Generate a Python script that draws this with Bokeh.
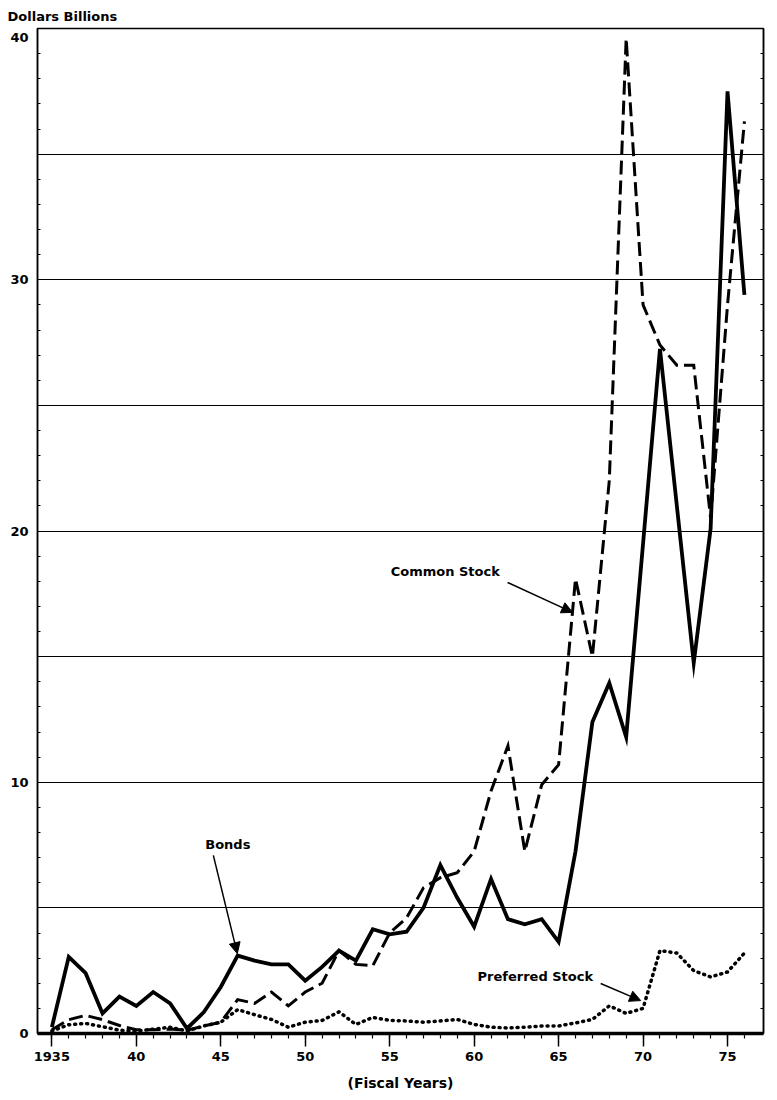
from bokeh.plotting import figure
from bokeh.models import Range1d, FixedTicker, LinearAxis, Label, Arrow, NormalHead, Title
from bokeh.embed import file_html
from bokeh.resources import INLINE

years = list(range(1935, 1977))
bonds = [0.25, 3.05, 2.4, 0.8, 1.47, 1.1, 1.65, 1.2, 0.2, 0.85,
         1.85, 3.1, 2.9, 2.75, 2.75, 2.1, 2.65, 3.3, 2.9, 4.15,
         3.95, 4.05, 5.0, 6.7, 5.4, 4.25, 6.15, 4.55, 4.35, 4.55,
         3.65, 7.25, 12.4, 13.95, 11.8, 19.5, 27.25, 21.0, 14.75, 20.1,
         37.5, 29.4]
common = [0.15, 0.55, 0.72, 0.55, 0.32, 0.15, 0.15, 0.18, 0.13, 0.3,
          0.45, 1.35, 1.2, 1.65, 1.1, 1.65, 2.0, 3.3, 2.75, 2.7,
          4.0, 4.6, 5.8, 6.2, 6.4, 7.25, 9.65, 11.45, 7.25, 9.9,
          10.7, 18.1, 15.0, 22.0, 39.6, 29.0, 27.4, 26.6, 26.6, 20.5,
          29.0, 36.3]
preferred = [0.1, 0.35, 0.4, 0.27, 0.13, 0.1, 0.17, 0.25, 0.1, 0.3,
             0.45, 0.95, 0.75, 0.56, 0.25, 0.45, 0.52, 0.86, 0.36, 0.64,
             0.52, 0.5, 0.45, 0.5, 0.56, 0.36, 0.25, 0.22, 0.25, 0.3,
             0.3, 0.42, 0.56, 1.1, 0.8, 1.0, 3.3, 3.2, 2.5, 2.25,
             2.45, 3.2]

x_major = [1935, 1940, 1945, 1950, 1955, 1960, 1965, 1970, 1975]
x_labels = ["1935", "40", "45", "50", "55", "60", "65", "70", "75"]
y_major = [0, 10, 20, 30, 40]
y_labels = ["0", "10", "20", "30", "40"]
y_grid = [5, 10, 15, 20, 25, 30, 35]

FONT = "DejaVu Sans"

p = figure(width=769, height=1095, output_backend="svg", toolbar_location=None,
           x_range=Range1d(1934.15, 1977.13), y_range=Range1d(0, 40),
           min_border_left=37, min_border_right=6, min_border_top=28,
           min_border_bottom=62, title=None)
p.background_fill_color = "white"
p.border_fill_color = "white"
p.outline_line_color = "black"
p.outline_line_width = 1.5

p.add_layout(Title(text="Dollars Billions", align="left", offset=-30, standoff=10,
                   text_font=FONT, text_font_style="bold", text_font_size="13px",
                   text_color="black"), "above")

# grid
p.xgrid.visible = False
p.ygrid.ticker = FixedTicker(ticks=y_grid)
p.ygrid.grid_line_color = "black"
p.ygrid.grid_line_width = 1

# x axis
xa = p.xaxis[0]
xa.ticker = FixedTicker(ticks=x_major, minor_ticks=list(range(1935, 1977)))
xa.major_label_overrides = {k: v for k, v in zip(x_major, x_labels)}
xa.axis_line_width = 3.5
xa.axis_line_color = "black"
xa.major_tick_in = 0
xa.major_tick_out = 13
xa.major_tick_line_width = 1.5
xa.minor_tick_in = 0
xa.minor_tick_out = 5
xa.minor_tick_line_width = 1.2
xa.major_label_standoff = 5
xa.major_label_text_font = FONT
xa.major_label_text_font_style = "bold"
xa.major_label_text_font_size = "13px"
xa.major_label_text_color = "black"
xa.axis_label = "(Fiscal Years)"
xa.axis_label_standoff = 11
xa.axis_label_text_font = FONT
xa.axis_label_text_font_style = "bold"
xa.axis_label_text_font_size = "14px"
xa.axis_label_text_color = "black"

# y axis (the top label sits a little below the frame's top edge, as in the original)
top_nudge = 0.36
y_label_pos = [v if v < 40 else v - top_nudge for v in y_major]
ya = p.yaxis[0]
ya.ticker = FixedTicker(ticks=y_label_pos, minor_ticks=list(range(0, 41)))
ya.major_label_overrides = {k: v for k, v in zip(y_label_pos, y_labels)}
ya.axis_line_width = 1.5
ya.major_tick_in = 0
ya.major_tick_out = 0
ya.minor_tick_in = 3
ya.minor_tick_out = 0
ya.major_label_standoff = 9
ya.major_label_text_font = FONT
ya.major_label_text_font_style = "bold"
ya.major_label_text_font_size = "13px"
ya.major_label_text_color = "black"

ra = LinearAxis(ticker=FixedTicker(ticks=[], minor_ticks=list(range(0, 41))),
                major_label_standoff=0,
                major_tick_in=0, major_tick_out=0, minor_tick_in=3, minor_tick_out=0,
                axis_line_width=1.5)
p.add_layout(ra, "right")

# series
p.line(years, preferred, line_color="black", line_width=3.5, line_dash="1 5",
       line_cap="round", line_join="round")
p.line(years, common, line_color="black", line_width=3, line_dash="14 6",
       line_join="miter")
p.line(years, bonds, line_color="black", line_width=3.8, line_join="miter")

text_kw = dict(text_font=FONT, text_font_style="bold", text_font_size="13px",
               text_color="black")

# annotations
p.add_layout(Label(x=1955.06, y=18.39, text="Common Stock", text_align="left",
                   text_baseline="middle", **text_kw))
p.add_layout(Arrow(x_start=1961.98, y_start=17.95, x_end=1965.83, y_end=16.76,
                   line_width=1.5, line_color="black",
                   end=NormalHead(size=11, fill_color="black", line_color="black")))

p.add_layout(Label(x=1944.08, y=7.52, text="Bonds", text_align="left",
                   text_baseline="middle", **text_kw))
p.add_layout(Arrow(x_start=1944.56, y_start=7.09, x_end=1945.98, y_end=3.18,
                   line_width=1.5, line_color="black",
                   end=NormalHead(size=11, fill_color="black", line_color="black")))

p.add_layout(Label(x=1960.2, y=2.27, text="Preferred Stock", text_align="left",
                   text_baseline="middle", **text_kw))
p.add_layout(Arrow(x_start=1967.49, y_start=1.99, x_end=1969.86, y_end=1.31,
                   line_width=1.5, line_color="black",
                   end=NormalHead(size=11, fill_color="black", line_color="black")))

open("out.html", "w").write(file_html(p, INLINE))
